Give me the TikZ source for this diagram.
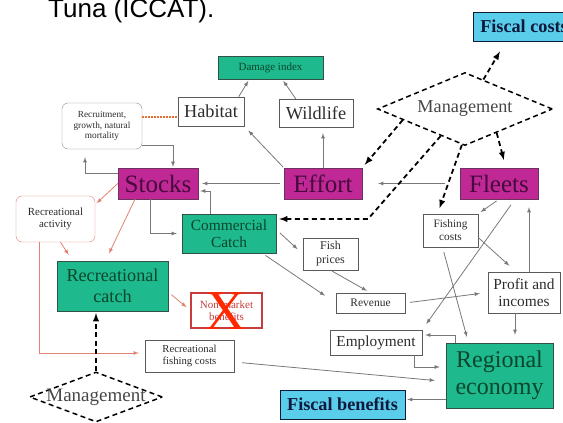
\documentclass[tikz,border=0pt]{standalone}
\usepackage{fontspec}
\setmainfont{Liberation Serif}
\newfontfamily\titlefamily{Liberation Sans}
\usetikzlibrary{arrows,shapes,positioning,calc}

\definecolor{hubfill}{RGB}{192,40,150}
\definecolor{hubedge}{RGB}{110,50,95}
\definecolor{hubtext}{RGB}{70,10,60}
\definecolor{catchfill}{RGB}{30,185,140}
\definecolor{catchedge}{RGB}{50,80,70}
\definecolor{catchtext}{RGB}{10,70,45}
\definecolor{fiscalfill}{RGB}{90,205,235}
\definecolor{navytext}{RGB}{15,25,60}
\definecolor{linegray}{RGB}{120,120,120}
\definecolor{boxgray}{RGB}{90,90,90}
\definecolor{softgray}{RGB}{140,140,140}
\definecolor{textgray}{RGB}{45,45,45}
\definecolor{mgmtgray}{RGB}{70,70,70}
\definecolor{recred}{RGB}{225,130,115}
\definecolor{dotorange}{RGB}{230,110,50}
\definecolor{nmred}{RGB}{200,60,60}
\definecolor{xred}{RGB}{255,40,0}

\tikzset{
  box/.style={draw=boxgray, fill=white, inner sep=0pt, align=center, text=textgray},
  hub/.style={box, draw=hubedge, fill=hubfill, text=hubtext, font=\fontsize{25}{28}\selectfont},
  catchbox/.style={box, draw=catchedge, fill=catchfill, text=catchtext},
  fiscal/.style={box, draw=navytext, fill=fiscalfill, text=navytext, font=\bfseries\fontsize{18.2}{20}\selectfont},
  flow/.style={draw=linegray, line width=0.8pt, ->},
  recflow/.style={draw=recred, line width=0.8pt, ->},
  mgmtflow/.style={draw=black, line width=1.8pt, dash pattern=on 5pt off 3.5pt, ->},
  mgmtshape/.style={diamond, draw=black, line width=1.5pt, dash pattern=on 5pt off 3.5pt, inner sep=0pt, text=mgmtgray},
  dotline/.style={draw=dotorange, line width=1.5pt, dash pattern=on 1.5pt off 1.5pt}
}

\begin{document}
\begin{tikzpicture}[x=1pt,y=-1pt,>=latex]
\useasboundingbox (0,0) rectangle (563,423);
\clip (0,0) rectangle (563,423);

\node[anchor=base west, inner sep=0pt, font=\titlefamily\fontsize{26}{30}\selectfont] (title) at (48,17) {Tuna (ICCAT).};

% boxes
\node[catchbox, minimum width=105, minimum height=23, font=\fontsize{11}{12}\selectfont] (damage) at (270.5,67.5) {Damage index};
\node[box, minimum width=66, minimum height=29, font=\fontsize{18.3}{20}\selectfont] (habitat) at (211,111.5) {Habitat};
\node[box, minimum width=74, minimum height=28, font=\fontsize{18.3}{20}\selectfont] (wildlife) at (316,113) {Wildlife};
\node[box, rounded corners=6pt, draw=softgray, minimum width=80, minimum height=46, font=\fontsize{9.3}{10.5}\selectfont] (recruit) at (102,126) {Recruitment,\\growth, natural\\mortality};
\node[hub, minimum width=80, minimum height=31] (stocks) at (158,183.5) {Stocks};
\node[hub, minimum width=78, minimum height=31] (effort) at (323,183.5) {Effort};
\node[hub, minimum width=78, minimum height=31] (fleets) at (499,183.5) {Fleets};
\node[mgmtshape, aspect=2.4, minimum width=175, minimum height=73, font=\fontsize{18.2}{20}\selectfont] (mgmt) at (465,109) {Management};
\node[fiscal, minimum width=102, minimum height=29] (fiscalcost) at (524,26.5) {Fiscal costs};
\node[catchbox, minimum width=94, minimum height=39, font=\fontsize{15.4}{17.5}\selectfont] (commcatch) at (229,233.5) {Commercial\\Catch};
\node[box, minimum width=55, minimum height=32, font=\fontsize{12}{14}\selectfont] (fishprice) at (330.5,254) {Fish\\prices};
\node[box, minimum width=55, minimum height=33, font=\fontsize{11.3}{13}\selectfont] (fishcost) at (450.5,230.5) {Fishing\\costs};
\node[box, rounded corners=6pt, draw=recred, minimum width=79, minimum height=46, font=\fontsize{10.9}{12.5}\selectfont] (recact) at (55.5,219) {Recreational\\activity};
\node[catchbox, minimum width=111, minimum height=50, font=\fontsize{18.2}{21}\selectfont] (reccatch) at (112.5,286) {Recreational\\catch};
\node[box, draw=nmred, line width=1.2pt, text=nmred, minimum width=71, minimum height=35, font=\fontsize{11}{12.5}\selectfont] (nonmarket) at (226.5,310.5) {Non-market\\benefits};
\node[text=xred, inner sep=0pt, font=\fontsize{56}{56}\selectfont] (cross) at (226,311) {X};
\node[box, minimum width=69, minimum height=20, font=\fontsize{11.5}{13}\selectfont] (revenue) at (370.5,303) {Revenue};
\node[box, minimum width=72, minimum height=41, font=\fontsize{15.4}{17.5}\selectfont] (profit) at (524,292.5) {Profit and\\incomes};
\node[box, minimum width=92, minimum height=25, font=\fontsize{15.3}{17}\selectfont] (employ) at (376,342.5) {Employment};
\node[catchbox, minimum width=107, minimum height=65, font=\fontsize{24}{27}\selectfont] (region) at (499.5,375.5) {Regional\\economy};
\node[box, minimum width=89, minimum height=32, font=\fontsize{10.7}{12}\selectfont] (recfish) at (189.5,356) {Recreational\\fishing costs};
\node[fiscal, minimum width=125, minimum height=29] (fiscalben) at (342.5,404.5) {Fiscal benefits};
\node[mgmtshape, minimum width=133, minimum height=50, label={[text=mgmtgray, font=\fontsize{19}{21}\selectfont]center:Management}] (mgmtlow) at (96,397) {};

% damage index
\draw[flow, shorten >=2pt] (habitat.28) -- (damage.209);
\draw[flow, shorten >=2pt] (wildlife.145) -- (damage.315);
% effort
\draw[flow, shorten <=1pt, shorten >=6pt] (effort.north west) -- (habitat.south east);
\draw[flow, shorten >=6pt] (effort.north) -- (effort.north |- wildlife.south);
\draw[flow, shorten <=4pt, shorten >=4pt] (effort.west) -- (stocks.east);
\draw[flow, shorten <=15pt, shorten >=16pt] (fleets.west) -- (effort.east);
% stocks loop
\coordinate (dotlevel) at (0,117);
\draw[dotline] (recruit.east |- dotlevel) -- (habitat.west |- dotlevel);
\draw[flow, shorten >=1pt] ([yshift=4pt]recruit.south east) -| ([xshift=15pt]stocks.north);
\draw[flow, shorten >=8pt] ([yshift=10pt]stocks.west) -| ([xshift=-17pt]recruit.south);
\draw[flow, shorten >=5pt] ([xshift=-8pt]stocks.south) |- (commcatch.west);
\draw[flow, shorten >=2pt] ([xshift=-19pt]commcatch.north) |- ([yshift=-7.5pt]stocks.east);
% recreational side
\draw[recflow, shorten >=2pt] (stocks.west) -- (recact.20);
\draw[recflow, shorten >=8pt] ([xshift=-23pt]stocks.south) -- ([xshift=-7pt]reccatch.north);
\draw[recflow, shorten >=7pt] ([xshift=5pt]recact.south) -- ([xshift=-40pt]reccatch.north);
\draw[recflow, shorten <=4pt, shorten >=5pt] ([yshift=-6pt]reccatch.east) -- (nonmarket.west);
\draw[recflow, shorten >=6pt] ([xshift=-16pt]recact.south) |- ([yshift=3pt]recfish.west);
\draw[flow, shorten <=8pt, shorten >=11pt] ([yshift=-6pt]recfish.east) -- ([yshift=-6pt]region.west);
\draw[mgmtflow, shorten >=2pt] (mgmtlow.north) -- (mgmtlow.north |- reccatch.south);
% management
\draw[mgmtflow, shorten >=4pt] (mgmt.190) -- (effort.north east);
\coordinate (catchbend) at (368,219);
\draw[mgmtflow, shorten >=3pt] (mgmt.228) -- (catchbend) -- (catchbend -| commcatch.east);
\draw[mgmtflow, shorten >=6pt] (mgmt.265) -- ([xshift=-13pt]fishcost.north);
\draw[mgmtflow, shorten >=8pt] (mgmt.323) -- ([xshift=7pt]fleets.north);
\draw[mgmtflow, shorten >=12pt] (mgmt.58) -- ([xshift=-18pt]fiscalcost.south);
% commercial chain
\draw[flow, shorten <=5pt, shorten >=7pt] ([yshift=4pt]commcatch.east) -- (fishprice.west);
\draw[flow, shorten <=4pt, shorten >=13pt] ([xshift=-14pt]commcatch.south east) -- (revenue.west);
\draw[flow, shorten <=2pt, shorten >=4pt] (fishprice.south) -- (revenue.north);
\draw[flow, shorten <=5pt, shorten >=8pt] (revenue.east) -- (profit.west);
% fleets and economy
\draw[flow, shorten <=3pt, shorten >=3pt] (fleets.south) -- (fishcost.north east);
\draw[flow, shorten <=7pt, shorten >=7pt] ([xshift=16pt]fleets.south) -- (employ.north east);
\draw[flow, shorten >=8pt] ([xshift=5pt]profit.north) -- ([xshift=30pt]fleets.south);
\draw[flow, shorten >=9pt] ([yshift=-7pt]fishcost.east) -- ([xshift=-8pt]profit.north);
\draw[flow, shorten <=5pt, shorten >=6pt] ([xshift=-8pt]fishcost.south) -- ([xshift=-31pt]region.north);
\draw[flow, shorten >=8pt] ([xshift=-9pt]profit.south) -- ([xshift=15.5pt]region.north);
\draw[flow, shorten >=3pt] ([xshift=-44.5pt]region.north) |- ([yshift=7.5pt]employ.east);
\draw[flow, shorten >=6pt] ([xshift=38pt]employ.south) |- ([yshift=8.5pt]region.west);
\coordinate (fbin) at ([yshift=5pt]fiscalben.east);
\draw[flow, shorten >=2pt] (fbin -| region.west) -- (fbin);
\end{tikzpicture}
\end{document}
